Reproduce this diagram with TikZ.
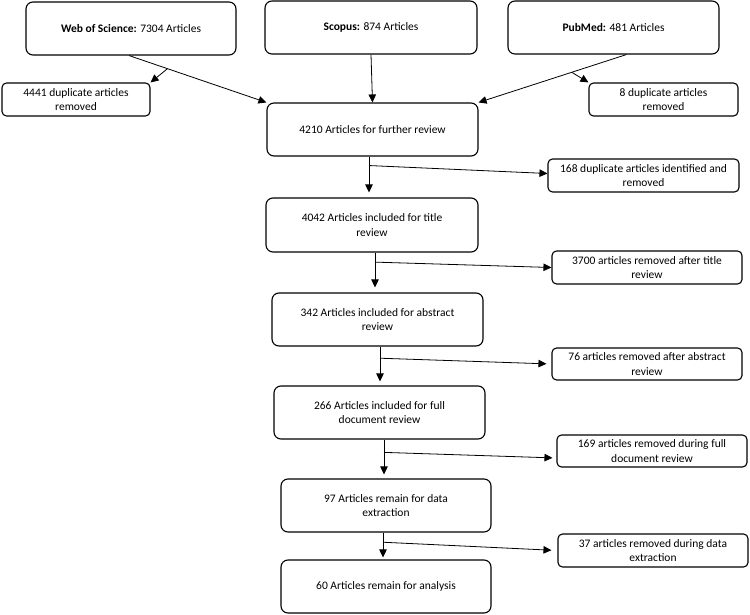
\documentclass[tikz,border=0pt]{standalone}
\usepackage{fontspec}
\setmainfont{Carlito}
\usetikzlibrary{arrows.meta,calc}
\begin{document}
\begin{tikzpicture}[x=1pt,y=-1pt,
  box/.style={draw=black,line width=1.1pt,rounded corners=7pt,align=center,inner sep=0pt,
    font=\fontsize{11.5}{14.5}\selectfont},
  sbox/.style={box,rounded corners=4.5pt},
  wh/.style 2 args={minimum width=#1,minimum height=#2},
  arr/.style={draw=black,line width=0.8pt,-{Triangle[length=8pt,width=7.5pt]}}
]
\useasboundingbox (0,0) rectangle (750,615);

% sources
\node[box,wh={210pt}{53pt}] (wos) at (131,28.5) {\textbf{Web of Science:} 7304 Articles};
\node[box,wh={212pt}{53pt}] (sc) at (371,27.5) {\textbf{Scopus:} 874 Articles};
\node[box,wh={211pt}{53pt}] (pub) at (613.5,27.5) {\textbf{PubMed:} 481 Articles};

% side boxes
\node[sbox,wh={148pt}{33pt}] (d1) at (76,99.5) {4441 duplicate articles\\removed};
\node[sbox,wh={149pt}{33pt}] (d2) at (663.5,99.5) {8 duplicate articles\\removed};
\node[sbox,wh={191pt}{33pt}] (d3) at (643.5,175.5) {168 duplicate articles identified and\\removed};
\node[sbox,wh={190pt}{33pt}] (d4) at (647,267.5) {3700 articles removed after title\\review};
\node[sbox,wh={190pt}{32pt}] (d5) at (647,364) {76 articles removed after abstract\\review};
\node[sbox,wh={190pt}{32pt}] (d6) at (652,451) {169 articles removed during full\\document review};
\node[sbox,wh={190pt}{33pt}] (d7) at (653,550.5) {37 articles removed during data\\extraction};

% main chain
\node[box,wh={211pt}{53pt}] (f) at (372.5,129.5) {4210 Articles for further review};
\node[box,wh={212pt}{54pt}] (g) at (372,225) {4042 Articles included for title\\review};
\node[box,wh={211pt}{53pt}] (h) at (377.5,319.5) {342 Articles included for abstract\\review};
\node[box,wh={211pt}{53pt}] (i) at (379.5,412.5) {266 Articles included for full\\document review};
\node[box,wh={210pt}{53pt}] (j) at (386,505.5) {97 Articles remain for data\\extraction};
\node[box,wh={210pt}{53pt}] (k) at (386,586.5) {60 Articles remain for analysis};

% source connectors
\coordinate (w0) at ($(wos.south)+(-2,0)$);
\draw[arr] (w0) -- (f.north west);
\path (w0) -- (f.north west) coordinate[pos=0.28] (b1);
\draw[arr] (b1) -- (d1.north east);

\draw[arr] (sc.south) -- (f.north);

\coordinate (p0) at ($(pub.south)+(13,0)$);
\draw[arr] (p0) -- (f.north east);
\path (p0) -- (f.north east) coordinate[pos=0.37] (b2);
\draw[arr] (b2) -- (d2.north west);

% chain connectors
\coordinate (v1) at ($(f.south)+(-3.5,0)$);
\draw[arr,shorten >=5pt] (v1) -- (v1 |- g.north);
\path (v1) -- (v1 |- g.north) coordinate[pos=0.22] (c1);
\draw[arr] (c1) -- ($(d3.west)+(0,-2)$);

\coordinate (v2) at ($(g.south)+(3,0)$);
\draw[arr,shorten >=5pt] (v2) -- (v2 |- h.north);
\path (v2) -- (v2 |- h.north) coordinate[pos=0.24] (c2);
\draw[arr] (c2) -- (d4.west);

\coordinate (v3) at ($(h.south)+(2.5,0)$);
\draw[arr,shorten >=4pt] (v3) -- (v3 |- i.north);
\path (v3) -- (v3 |- i.north) coordinate[pos=0.3] (c3);
\draw[arr,shorten >=5pt] (c3) -- (d5.west);

\coordinate (v4) at ($(i.south)+(4.5,0)$);
\draw[arr,shorten >=4pt] (v4) -- (v4 |- j.north);
\path (v4) -- (v4 |- j.north) coordinate[pos=0.33] (c4);
\draw[arr,shorten >=4pt] (c4) -- ($(d6.west)+(0,7)$);

\coordinate (v5) at ($(j.south)+(-3,0)$);
\draw[arr,shorten >=2pt] (v5) -- (v5 |- k.north);
\path (v5) -- (v5 |- k.north) coordinate[pos=0.36] (c5);
\draw[arr,shorten >=6pt] (c5) -- (d7.west);
\end{tikzpicture}
\end{document}
